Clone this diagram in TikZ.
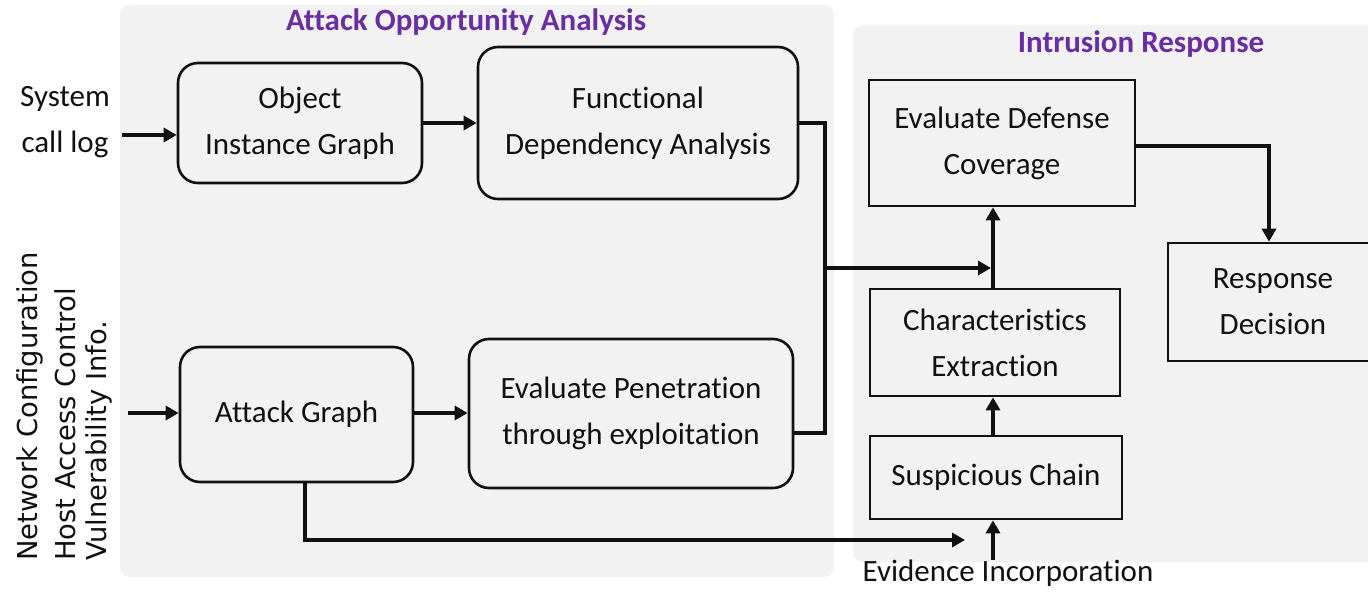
\documentclass[tikz,border=0pt]{standalone}
\usepackage{fontspec}
\setmainfont{Carlito}[Ligatures={NoCommon}]
\newfontfamily\sidefont{DejaVu Sans}
\usetikzlibrary{arrows.meta}
\definecolor{panelgray}{HTML}{F2F2F2}
\definecolor{titlepurple}{HTML}{6A2EA3}
\definecolor{ink}{HTML}{111111}
\begin{document}
\begin{tikzpicture}[x=1pt,y=-1pt,
  every node/.style={font=\fontsize{31}{46}\selectfont, text=ink, align=center, inner sep=0pt},
  panel/.style={fill=panelgray, draw=none, rounded corners=10pt},
  title/.style={font=\fontsize{31}{38}\selectfont\bfseries, text=titlepurple},
  rbox/.style={draw=ink, line width=2.6pt, rounded corners=20pt},
  sbox/.style={draw=ink, line width=2.6pt},
  link/.style={draw=ink, line width=4pt},
  arr/.style={link, -{Triangle[length=13pt,width=14pt]}},
  side/.style={font=\sidefont\fontsize{27.4}{34}\selectfont, rotate=90, anchor=west, align=left}]
  \useasboundingbox (0,0) rectangle (1368,594);
  % background panels
  \fill[white] (0,0) rectangle (1368,594);
  \path[panel] (120,5) rectangle (834,577);
  \path[panel] (853,25) rectangle (1380,562);
  \node[title] (ttl1) at (466,22) {Attack Opportunity Analysis};
  \node[title] (ttl2) at (1141,44) {Intrusion Response};

  % inputs
  \node (sys) at (65,122) {System\\call log};
  \node[side] (net) at (30,561) {Network Configuration};
  \node[side] (hac) at (65,561) {Host Access Control};
  \node[side] (vul) at (99,561) {Vulnerability Info.};
  \node (evi) at (1008,573) {Evidence Incorporation};

  % attack opportunity analysis
  \node[rbox, minimum width=244pt, minimum height=120pt] (oig) at (300,123) {Object\\Instance Graph};
  \node[rbox, minimum width=320pt, minimum height=152pt] (fda) at (638,123) {Functional\\Dependency Analysis};
  \node[rbox, minimum width=233pt, minimum height=135pt] (ag) at (296.5,414.5) {Attack Graph};
  \node[rbox, minimum width=324pt, minimum height=149pt] (ep) at (631,413.5) {Evaluate Penetration\\through exploitation};

  % intrusion response
  \node[sbox, minimum width=266pt, minimum height=126pt] (edc) at (1002,143) {Evaluate Defense\\Coverage};
  \node[sbox, minimum width=250pt, minimum height=107pt] (ce) at (995,342.5) {Characteristics\\Extraction};
  \node[sbox, minimum width=252pt, minimum height=83pt] (sc) at (996,477.5) {Suspicious Chain};
  \node[sbox, minimum width=210pt, minimum height=118pt, text width=200pt] (rd) at (1273,302) {Response\\Decision};

  % connector anchors
  \coordinate (sysout) at (122,135);
  \coordinate (netout) at (128,413);
  \coordinate (busx) at (825,0);
  \coordinate (upx) at (993,0);
  \coordinate (merge) at (991,268);
  \coordinate (evtip) at (965,540);

  % flows
  \draw[arr] (sysout) -- (sysout -| oig.west);
  \draw[arr] (oig.east) -- (fda.west);
  \draw[arr] (netout) -- (netout -| ag.west);
  \draw[arr] (ag.east |- 0,413) -- (ep.west |- 0,413);
  \draw[link, line width=3.2pt] (fda.east |- 0,123) -| (busx |- 0,433) -- (ep.east |- 0,433);
  \draw[arr] (busx |- merge) -- (merge);
  \draw[arr] (upx |- ce.north) -- (upx |- edc.south);
  \draw[arr] (upx |- sc.north) -- (upx |- ce.south);
  \draw[arr] (upx |- evi.north) -- (upx |- sc.south);
  \draw[arr] (ag.south -| 305,0) |- (evtip);
  \draw[arr] (edc.east |- 0,146) -| (rd.north -| 1269,0);
\end{tikzpicture}
\end{document}
